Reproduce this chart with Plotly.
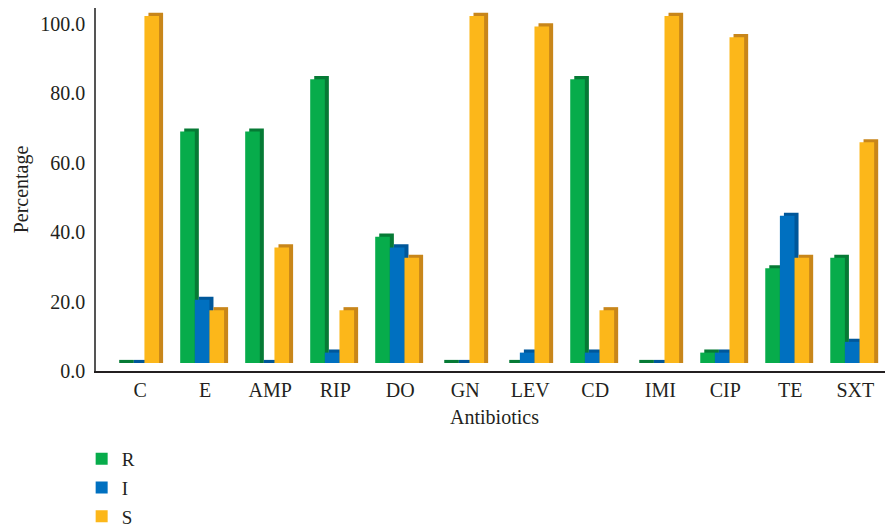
import plotly.graph_objects as go

categories = ["C", "E", "AMP", "RIP", "DO", "GN", "LEV", "CD", "IMI", "CIP", "TE", "SXT"]
R = [0.0, 66.7, 66.7, 81.8, 36.4, 0.0, 0.0, 81.8, 0.0, 3.0, 27.3, 30.3]
I = [0.0, 18.2, 0.0, 3.0, 33.3, 0.0, 3.0, 3.0, 0.0, 3.0, 42.4, 6.1]
S = [100.0, 15.2, 33.3, 15.2, 30.3, 100.0, 97.0, 15.2, 100.0, 93.9, 30.3, 63.6]
series = [("R", R), ("I", I), ("S", S)]
front_colors = {"R": "#07AC4B", "I": "#0070C0", "S": "#FCB71A"}
side_colors = {"R": "#067A35", "I": "#00579A", "S": "#C8861A"}

FONT = "Liberation Serif"
W = 0.225
offsets = {"R": -0.385, "I": -0.16, "S": 0.065}
DX = 0.062      # depth of the pseudo-3D side face (category units)
DZ = 0.9        # height of the pseudo-3D top face (axis units)
FLOOR = 2.3     # 3D floor lift, as in the reference

fig = go.Figure()
for name, vals in series:
    fig.add_trace(go.Bar(
        x=categories, y=[v + DZ for v in vals], base=FLOOR, width=W,
        offset=offsets[name] + DX,
        marker=dict(color=side_colors[name], line=dict(width=0)),
        showlegend=False, hoverinfo="skip"))
    fig.add_trace(go.Bar(
        x=categories, y=vals, base=FLOOR, width=W, offset=offsets[name], name=name,
        legendgroup=name,
        marker=dict(color=front_colors[name], line=dict(width=0))))

fig.update_layout(
    width=885, height=519,
    barmode="overlay",
    plot_bgcolor="white", paper_bgcolor="white",
    margin=dict(l=88, r=0, t=0, b=156, autoexpand=False),
    font=dict(family=FONT, size=20, color="#231F20"),
    legend=dict(x=-0.018, y=-0.19, xanchor="left", yanchor="top",
                orientation="v", tracegroupgap=1,
                font=dict(family=FONT, size=19)),
    xaxis=dict(type="category", range=[-0.68, 11.58], showline=True,
               linecolor="#231F20", linewidth=1.5, ticks="", automargin=False,
               title=dict(text="Antibiotics", font=dict(size=20), standoff=10),
               tickfont=dict(size=20)),
    yaxis=dict(range=[0, 104.6], tickvals=[0, 20, 40, 60, 80, 100],
               tickformat=".1f", showgrid=False, zeroline=False, automargin=False,
               showline=True, linecolor="#555555", linewidth=1.5, ticks="",
               ticklabelstandoff=5,
               title=dict(text="Percentage", font=dict(size=20), standoff=6),
               tickfont=dict(size=20)),
)

fig.write_html("out.html")
